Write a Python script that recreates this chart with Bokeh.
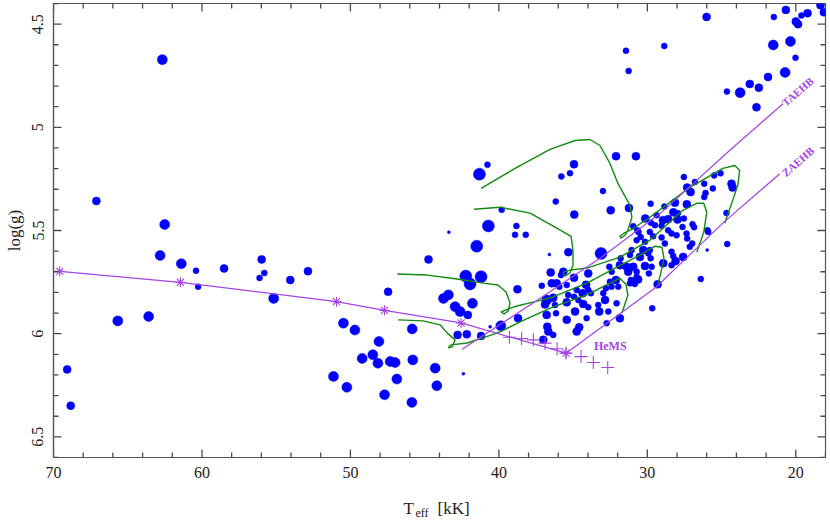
import math
from bokeh.plotting import figure
from bokeh.layouts import column
from bokeh.models import Range1d, FixedTicker, CustomJSTickFormatter, Label, ColumnDataSource
from bokeh.core.properties import value
from bokeh.embed import file_html
from bokeh.resources import INLINE

# ---------------- data ----------------
star_teff = [
    62.67, 67.11, 62.51, 62.82, 61.39, 60.40, 60.26, 58.51, 55.98, 56.12, 55.80, 55.17, 65.67, 63.59,
    69.08, 68.84, 54.05, 52.86, 47.46, 50.47, 49.70, 45.84, 48.08, 49.21, 48.49, 48.15, 47.32, 46.99,
    45.80, 44.29, 44.18, 51.14, 50.24, 46.87, 47.70, 45.86, 42.39, 44.74,
    40.77, 41.31, 39.81, 40.71, 38.82, 38.91, 38.19, 43.37, 41.49, 42.23, 41.94, 41.20, 38.75, 43.73,
    43.40, 41.78, 42.95, 42.61, 42.09, 42.78, 42.16, 41.20, 40.59, 39.87, 38.71, 37.11, 36.78, 37.01,
    34.94, 35.21, 35.79, 32.11, 30.77, 32.99, 36.17, 34.92, 32.47, 31.24, 36.60, 35.32, 33.12, 30.60, 31.06,
    26.01, 31.44, 31.26, 28.86, 21.48, 20.67, 20.00, 19.85, 19.62, 19.21, 18.34, 18.11, 21.52, 20.36,
    20.02, 20.72, 21.87, 23.10, 22.49, 23.75, 24.64, 22.65,
    27.54, 25.50, 25.07, 26.80, 26.17, 25.59, 27.32, 27.09, 24.33, 24.26, 26.08, 26.17, 24.67, 25.95,
    24.62, 25.97, 29.78, 28.85, 28.14, 27.34, 28.25, 27.94, 30.14, 29.38, 28.95, 28.60, 27.97, 27.54,
    29.76, 30.95, 30.68, 30.45, 29.83, 29.49, 29.04, 28.60, 28.37, 28.03, 27.63, 27.36, 26.96, 26.85,
    27.32, 30.72, 30.16, 29.61, 30.28, 29.83, 29.04, 28.82, 28.37, 27.14, 26.98, 27.59, 25.90, 30.50, 28.26,
    31.17, 31.85, 32.40, 31.40, 31.29, 30.72, 36.51, 35.66, 35.82, 34.94, 33.98, 36.44, 36.11, 35.93,
    34.13, 33.98, 34.76, 34.36, 33.80, 35.33, 34.94, 32.52, 32.12, 32.79, 32.41, 31.96, 31.11, 36.34,
    36.89, 36.22, 35.43, 34.65, 34.32, 33.98, 33.31, 32.85, 32.63, 33.24, 34.87, 36.78, 36.15, 35.43,
    34.59, 34.76, 32.74, 31.85, 36.74, 36.67, 36.34, 34.09, 32.07, 32.97, 31.17, 32.56, 31.80, 35.43,
    29.94, 29.78, 29.71, 30.16, 30.95, 30.72, 29.90, 30.95, 30.62, 30.84, 28.93, 28.37, 28.10, 29.31,
    26.40, 29.67,
]
star_logg = [
    4.672, 5.357, 5.471, 5.621, 5.661, 5.695, 5.772, 5.684, 5.640, 5.730, 5.706, 5.829, 5.938, 5.917,
    6.173, 6.349, 5.740, 5.697, 5.797, 5.949, 5.982, 5.977, 6.038, 6.120, 6.102, 6.143, 6.135, 6.140,
    6.127, 6.167, 6.252, 6.207, 6.260, 6.220, 6.296, 6.333, 6.194, 5.640,
    5.181, 5.227, 5.400, 5.478, 5.478, 5.521, 5.521, 5.508, 5.576, 5.721, 5.759, 5.724, 5.785, 5.829,
    5.812, 5.853, 5.869, 5.893, 5.909, 6.006, 6.003, 6.011, 5.966, 5.962, 5.925, 5.768, 5.837, 6.030,
    5.179, 5.222, 5.238, 5.140, 5.140, 5.309, 5.360, 5.423, 5.402, 5.391, 5.616, 5.605, 5.611, 5.507, 5.595,
    4.465, 4.629, 4.727, 4.606, 4.466, 4.431, 4.487, 4.500, 4.458, 4.447, 4.408, 4.442, 4.601, 4.584,
    4.663, 4.734, 4.756, 4.790, 4.808, 4.832, 4.827, 4.903,
    5.241, 5.233, 5.223, 5.265, 5.273, 5.296, 5.292, 5.314, 5.273, 5.292, 5.318, 5.338, 5.415, 5.499,
    5.566, 5.595, 5.370, 5.384, 5.365, 5.373, 5.412, 5.416, 5.442, 5.426, 5.450, 5.445, 5.447, 5.442,
    5.463, 5.479, 5.499, 5.531, 5.507, 5.474, 5.477, 5.499, 5.515, 5.523, 5.483, 5.515, 5.470, 5.484,
    5.539, 5.547, 5.555, 5.528, 5.595, 5.595, 5.534, 5.563, 5.603, 5.579, 5.563, 5.628, 5.507, 5.628, 5.624,
    5.619, 5.668, 5.700, 5.676, 5.700, 5.724, 5.703, 5.700, 5.716, 5.729, 5.708, 5.756, 5.756, 5.772,
    5.763, 5.788, 5.788, 5.804, 5.804, 5.813, 5.821, 5.748, 5.740, 5.780, 5.772, 5.772, 5.740, 5.826,
    5.858, 5.861, 5.848, 5.837, 5.856, 5.872, 5.861, 5.837, 5.893, 5.893, 5.893, 5.909, 5.901, 5.933,
    5.969, 5.990, 5.949, 5.925, 5.966, 5.990, 6.006, 5.925, 5.853, 5.804, 5.756, 5.676, 5.635, 5.764,
    5.611, 5.635, 5.676, 5.672, 5.676, 5.700, 5.708, 5.748, 5.737, 5.759, 5.659, 5.668, 5.648, 5.761,
    5.735, 5.877,
]
star_class = [
    3, 2, 3, 3, 3, 1, 1, 2, 2, 1, 1, 3, 3, 3,
    2, 2, 2, 2, 2, 3, 3, 3, 3, 3, 3, 3, 3, 3,
    3, 3, 3, 3, 3, 3, 3, 3, 0, 2,
    1, 4, 1, 4, 1, 1, 1, 0, 4, 4, 4, 4, 2, 3,
    3, 3, 3, 3, 2, 2, 2, 2, 0, 3, 2, 1, 3, 2,
    2, 1, 1, 2, 2, 1, 1, 2, 2, 2, 0, 2, 4, 1, 1,
    2, 1, 1, 1, 1, 2, 2, 2, 1, 2, 2, 2, 3, 3,
    1, 3, 2, 2, 2, 3, 1, 2,
    1, 1, 1, 1, 1, 1, 2, 2, 2, 2, 1, 1, 1, 1,
    1, 0, 1, 1, 2, 2, 2, 1, 2, 1, 2, 2, 2, 1,
    1, 1, 1, 1, 1, 1, 1, 1, 1, 1, 1, 1, 1, 1,
    1, 1, 1, 1, 2, 1, 1, 1, 1, 1, 1, 2, 1, 2, 1,
    1, 2, 1, 2, 2, 1, 2, 2, 1, 2, 2, 2, 2, 1,
    2, 1, 1, 2, 1, 1, 1, 1, 2, 1, 1, 1, 1, 2,
    2, 1, 2, 1, 2, 1, 1, 2, 1, 2, 2, 2, 1, 2,
    2, 2, 1, 2, 2, 2, 1, 1, 1, 1, 1, 1, 1, 1,
    1, 1, 1, 2, 2, 1, 1, 2, 2, 1, 2, 1, 2, 2,
    1, 1,
]

seq_teff = [69.58, 61.45, 50.94, 47.71, 42.55, 35.48]
seq_logg = [5.698, 5.751, 5.845, 5.887, 5.948, 6.094]

hems_teff = [39.29, 38.47, 37.68, 36.89, 36.08, 35.48, 34.47, 33.64, 32.67]
hems_logg = [6.017, 6.023, 6.030, 6.046, 6.073, 6.094, 6.111, 6.140, 6.164]

taehb_teff = [42.48, 37.90, 33.19, 29.15, 24.33, 20.86]
taehb_logg = [6.075, 5.861, 5.635, 5.418, 5.104, 4.886]
zaehb_teff = [35.45, 29.42, 24.90, 21.08]
zaehb_logg = [6.094, 5.775, 5.463, 5.225]

track1_teff = [41.20, 38.91, 36.56, 34.87, 33.87, 33.19, 32.52, 31.98, 31.17, 31.04, 31.31, 31.51, 31.78,
               31.85, 31.58, 31.04, 29.83, 27.14, 24.92, 24.11, 23.78, 23.91, 24.25, 24.79]
track1_logg = [5.296, 5.199, 5.107, 5.064, 5.059, 5.088, 5.175, 5.272, 5.378, 5.436, 5.499, 5.523, 5.537,
               5.528, 5.513, 5.494, 5.436, 5.291, 5.199, 5.185, 5.209, 5.281, 5.354, 5.465]
track2_teff = [46.85, 44.83, 42.81, 41.07, 40.06, 39.52, 39.25, 39.38, 39.65, 39.85, 39.38, 38.78, 37.43,
               36.35, 34.07, 32.18, 30.50, 29.49, 29.02, 28.88, 29.08, 29.28]
track2_logg = [5.711, 5.716, 5.735, 5.755, 5.764, 5.798, 5.851, 5.890, 5.904, 5.895, 5.880, 5.866, 5.842,
               5.822, 5.755, 5.682, 5.619, 5.576, 5.581, 5.634, 5.702, 5.759]
track3_teff = [46.79, 45.10, 43.96, 43.49, 42.95, 43.15, 43.42, 43.22, 42.14, 41.07, 39.92, 38.58, 36.35,
               34.07, 32.52, 31.85, 31.44, 31.31, 31.71]
track3_logg = [5.933, 5.938, 5.957, 5.996, 6.030, 6.064, 6.069, 6.054, 6.045, 6.020, 5.991, 5.943, 5.870,
               5.812, 5.755, 5.731, 5.760, 5.813, 5.900]
track4_teff = [41.67, 39.92, 37.90, 36.22, 35.14, 35.01, 35.01, 35.21, 35.55, 35.68, 35.21, 34.07, 31.85,
               29.83, 27.61, 26.67, 26.20, 26.00, 26.20, 26.67]
track4_logg = [5.397, 5.387, 5.416, 5.484, 5.528, 5.595, 5.668, 5.706, 5.721, 5.702, 5.692, 5.682, 5.629,
               5.547, 5.402, 5.368, 5.368, 5.412, 5.508, 5.605]

x_major = [20, 30, 40, 50, 60, 70]
y_major = [4.5, 5, 5.5, 6, 6.5]

# ---------------- styling ----------------
BLUE = "#0000ff"
GREEN = "#138a13"
PURPLE = "#a544e8"
FRAME = "#555555"
TICK = "#4a4a4a"
INK = "#222222"
FONT = "Liberation Serif"
SIZE_PX = {0: 3, 1: 6, 2: 8, 3: 10, 4: 12}

X0, X1 = 70, 18
Y0, Y1 = 6.6, 4.4
FW, FH = 772, 454
BL, BR, BT, BB = 53, 3, 3, 30

p = figure(frame_width=FW, frame_height=FH, x_range=Range1d(X0, X1), y_range=Range1d(Y0, Y1),
           output_backend="svg", toolbar_location=None,
           min_border_left=BL, min_border_right=BR, min_border_top=BT, min_border_bottom=BB)
p.grid.visible = False
p.outline_line_color = FRAME
p.outline_line_width = 1.2
p.background_fill_color = "white"

src = ColumnDataSource(dict(x=star_teff, y=star_logg, s=[SIZE_PX[c] for c in star_class]))
p.scatter("x", "y", size="s", source=src, marker="circle", fill_color=BLUE, line_color=BLUE, line_width=0.5)

for tx, ty in [(track1_teff, track1_logg), (track2_teff, track2_logg),
               (track3_teff, track3_logg), (track4_teff, track4_logg)]:
    p.line(tx, ty, line_color=GREEN, line_width=1.4)

p.line(taehb_teff, taehb_logg, line_color=PURPLE, line_width=1.2)
p.line(zaehb_teff, zaehb_logg, line_color=PURPLE, line_width=1.2)
p.line(seq_teff, seq_logg, line_color=PURPLE, line_width=1.2)
p.scatter(seq_teff, seq_logg, marker="asterisk", size=10, line_color=PURPLE, line_width=1.1)
p.scatter(hems_teff, hems_logg, marker="cross", size=13, line_color=PURPLE, line_width=1.1)

# inward ticks on all four sides of the frame
x_minor = [t for t in range(18, 71, 2) if t % 10]
y_minor = [round(4.4 + 0.1 * i, 1) for i in range(23)]
y_minor = [t for t in y_minor if t not in y_major]
dx = abs(X0 - X1) / FW
dy = abs(Y0 - Y1) / FH
MAJ, MIN = 8, 5

for vals, L in [(x_major, MAJ), (x_minor, MIN)]:
    n = len(vals)
    tick_src = ColumnDataSource(dict(x=list(vals), yb0=[Y0] * n, yb1=[Y0 - L * dy] * n,
                                     yt0=[Y1] * n, yt1=[Y1 + L * dy] * n))
    p.segment(x0="x", y0="yb0", x1="x", y1="yb1", source=tick_src, line_color=TICK, line_width=1.3)
    p.segment(x0="x", y0="yt0", x1="x", y1="yt1", source=tick_src, line_color=TICK, line_width=1.3)

for vals, L in [(y_major, MAJ), (y_minor, MIN)]:
    n = len(vals)
    tick_src = ColumnDataSource(dict(y=list(vals), xl0=[X0] * n, xl1=[X0 - L * dx] * n,
                                     xr0=[X1] * n, xr1=[X1 + L * dx] * n))
    p.segment(x0="xl0", y0="y", x1="xl1", y1="y", source=tick_src, line_color=TICK, line_width=1.3)
    p.segment(x0="xr0", y0="y", x1="xr1", y1="y", source=tick_src, line_color=TICK, line_width=1.3)

fmt = CustomJSTickFormatter(code="return String(tick);")
for ax, tk in [(p.xaxis[0], x_major), (p.yaxis[0], y_major)]:
    ax.ticker = FixedTicker(ticks=tk, minor_ticks=[])
    ax.formatter = fmt
    ax.axis_line_color = FRAME
    ax.axis_line_width = 1.2
    ax.major_tick_in = 0
    ax.major_tick_out = 0
    ax.minor_tick_in = 0
    ax.minor_tick_out = 0
    ax.major_label_text_font = FONT
    ax.major_label_text_font_size = "16px"
    ax.major_label_text_color = INK

xb = p.xaxis[0]
xb.major_label_standoff = 9
xb.axis_label = None

yl = p.yaxis[0]
yl.major_label_orientation = "vertical"
yl.major_label_standoff = 10
yl.axis_label = "log(g)"
yl.axis_label_text_font = FONT
yl.axis_label_text_font_size = "17px"
yl.axis_label_text_font_style = "normal"
yl.axis_label_text_color = INK
yl.axis_label_standoff = 6

p.add_layout(Label(x=20.57, y=4.909, text="TAEHB", angle=41, angle_units="deg",
                   text_font=FONT, text_font_style="bold", text_font_size="11px", text_color=PURPLE))
p.add_layout(Label(x=20.57, y=5.249, text="ZAEHB", angle=41, angle_units="deg",
                   text_font=FONT, text_font_style="bold", text_font_size="11px", text_color=PURPLE))
p.add_layout(Label(x=33.60, y=6.093, text="HeMS",
                   text_font=FONT, text_font_style="bold", text_font_size="12px", text_color=PURPLE))

# x-axis title strip (T_eff [kK]); its frame is aligned with the main frame
H2 = 31
q = figure(frame_width=FW, height=H2, x_range=Range1d(0, FW), y_range=Range1d(0, H2),
           output_backend="svg", toolbar_location=None, x_axis_type=None, y_axis_type=None,
           min_border_left=BL, min_border_right=BR, min_border_top=0, min_border_bottom=0,
           outline_line_color=None)
q.grid.visible = False
q.text(x=[350], y=[10], text=["T"], text_font=value(FONT), text_font_size="17px",
       text_color=INK, text_align="left", text_baseline="alphabetic")
q.text(x=[362], y=[6], text=["eff"], text_font=value(FONT), text_font_size="12px",
       text_color=INK, text_align="left", text_baseline="alphabetic")
q.text(x=[384], y=[10], text=["[kK]"], text_font=value(FONT), text_font_size="17px",
       text_color=INK, text_align="left", text_baseline="alphabetic")

layout = column(p, q, spacing=0)
open("out.html", "w").write(file_html(layout, INLINE))
